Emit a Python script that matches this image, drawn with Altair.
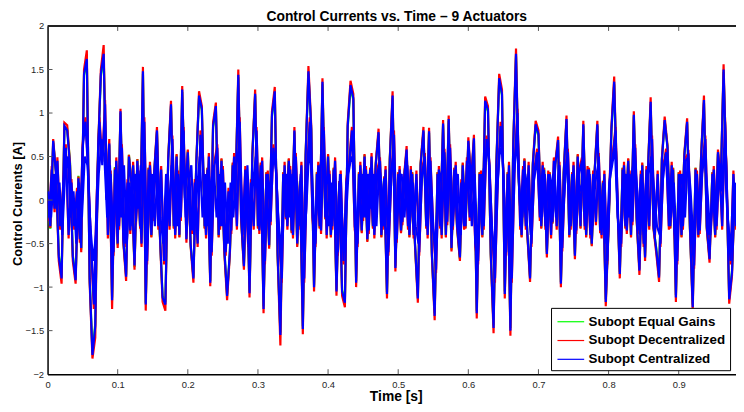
import altair as alt
import pandas as pd

TITLE = "Control Currents vs. Time – 9 Actuators"
X_TITLE = "Time [s]"
Y_TITLE = "Control Currents [A]"
SERIES = ["Subopt Equal Gains", "Subopt Decentralized", "Subopt Centralized"]
COLORS = ["#00ff00", "#ff0000", "#0000ff"]
X_TICKS = [0, 0.1, 0.2, 0.3, 0.4, 0.5, 0.6, 0.7, 0.8, 0.9]
Y_TICKS = [-2, -1.5, -1, -0.5, 0, 0.5, 1, 1.5, 2]
DT = 0.004  # sample spacing of the traced values [s]

# traced envelope trace of each controller
BLUE = [
    0.0, -0.3, 0.68, 0.3, -0.65, -0.9, 0.85, 0.8, 0.4, -0.65,
    -0.92, 0.25, -0.55, 1.45, 1.62, -0.9, -1.78, -1.45, 0.55, 1.45,
    1.68, 0.0, 0.65, -1.15, 0.35, -0.5, 1.02, -0.45, -0.88, 0.5,
    0.15, -0.75, 0.45, -0.3, 1.48, -1.2, 0.35, -0.4, 0.3, 0.8,
    -0.35, -1.12, -1.2, 0.45, 1.1, -0.3, 0.5, -0.4, 1.27, 0.0,
    0.55, -0.5, -0.9, 0.4, 1.2, 1.05, -0.3, 0.35, -0.95, 0.85,
    1.08, -0.4, 0.45, -0.55, -1.1, -0.58, 0.4, 0.1, 1.44, -0.2,
    -0.76, 0.3, -1.07, 0.5, 1.22, -0.3, 0.4, -1.25, 0.3, -0.52,
    0.98, 1.25, -0.6, -1.55, 0.3, -0.2, 0.45, -0.35, 0.8, -0.5,
    0.2, -1.48, 0.5, 1.48, 0.82, -1.0, 0.3, -0.3, 1.36, -0.2,
    0.5, -0.4, 0.35, -1.05, 0.2, -1.05, -1.18, 0.85, 1.32, 1.17,
    -0.95, 0.3, -0.35, 0.5, -0.45, 0.35, -0.3, 0.4, 0.78, -0.4,
    0.25, -1.08, 0.45, 1.2, -0.78, 0.3, -0.35, 0.2, 0.58, -0.4,
    0.3, -0.5, -1.13, 0.4, 0.8, -0.3, 0.79, -0.6, -1.33, 0.3,
    -0.3, 0.88, -0.4, 0.93, -0.55, 0.35, -0.3, -0.66, 0.4, -0.3,
    0.68, 0.2, 0.71, -1.3, 0.3, -0.4, 1.14, 1.04, -0.6, -1.47,
    0.4, 1.4, 1.22, -1.08, 0.3, -1.5, 0.6, 1.68, 0.2, -0.4,
    0.45, -0.35, -0.9, 0.4, 0.87, 0.76, -0.3, 0.35, -0.62, 0.3,
    -0.25, 0.4, 0.69, -0.96, 0.3, 0.93, -0.4, 0.3, -0.64, 0.5,
    -0.3, 0.87, -0.4, 0.35, -0.5, 0.3, 0.87, -0.35, 0.2, -1.17,
    -0.3, 0.8, 1.36, 0.1, -0.85, 0.35, -0.3, 0.45, -0.4, 0.98,
    -0.2, -0.81, 0.4, -0.66, 0.3, 1.13, -0.3, -0.57, -0.89, 0.45,
    0.92, 0.6, -0.3, 0.35, -1.12, 0.3, -0.4, 0.5, 0.9, -0.3,
    -1.23, 0.35, -0.4, 0.5, 1.15, -0.3, -0.68, 0.3, -0.4, 0.55,
    0.2, 1.5, 0.3, -1.14, -0.83, 0.1,
]

RED = [
    0.0, -0.32, 0.7, 0.32, -0.7, -0.96, 0.89, 0.86, 0.42, -0.7,
    -0.96, 0.27, -0.6, 1.5, 1.72, -0.95, -1.82, -1.58, 0.58, 1.5,
    1.78, 0.02, 0.7, -1.25, 0.37, -0.55, 1.05, -0.48, -0.93, 0.52,
    0.17, -0.8, 0.47, -0.33, 1.53, -1.27, 0.37, -0.43, 0.32, 0.84,
    -0.38, -1.17, -1.27, 0.48, 1.14, -0.33, 0.53, -0.43, 1.31, 0.02,
    0.58, -0.53, -0.95, 0.42, 1.25, 1.08, -0.33, 0.37, -0.99, 0.89,
    1.12, -0.43, 0.48, -0.6, -1.15, -0.62, 0.43, 0.12, 1.5, -0.22,
    -0.8, 0.32, -1.12, 0.53, 1.27, -0.33, 0.43, -1.3, 0.32, -0.56,
    1.02, 1.3, -0.64, -1.67, 0.32, -0.22, 0.48, -0.38, 0.84, -0.54,
    0.22, -1.54, 0.53, 1.54, 0.86, -1.05, 0.32, -0.33, 1.4, -0.22,
    0.53, -0.43, 0.37, -1.1, 0.22, -1.1, -1.23, 0.89, 1.37, 1.22,
    -1.0, 0.32, -0.38, 0.53, -0.48, 0.37, -0.33, 0.43, 0.82, -0.43,
    0.27, -1.13, 0.48, 1.25, -0.82, 0.32, -0.38, 0.22, 0.62, -0.43,
    0.32, -0.53, -1.18, 0.43, 0.84, -0.33, 0.83, -0.64, -1.38, 0.32,
    -0.33, 0.92, -0.43, 0.97, -0.59, 0.37, -0.33, -0.7, 0.43, -0.33,
    0.72, 0.22, 0.75, -1.36, 0.32, -0.43, 1.19, 1.08, -0.64, -1.53,
    0.43, 1.45, 1.27, -1.13, 0.32, -1.56, 0.63, 1.74, 0.22, -0.43,
    0.48, -0.38, -0.94, 0.43, 0.91, 0.8, -0.33, 0.37, -0.66, 0.32,
    -0.27, 0.43, 0.73, -1.0, 0.32, 0.97, -0.43, 0.32, -0.68, 0.53,
    -0.33, 0.91, -0.43, 0.37, -0.53, 0.32, 0.91, -0.38, 0.22, -1.22,
    -0.33, 0.84, 1.42, 0.12, -0.9, 0.37, -0.33, 0.48, -0.43, 1.02,
    -0.22, -0.86, 0.43, -0.7, 0.32, 1.18, -0.33, -0.61, -0.94, 0.48,
    0.96, 0.63, -0.33, 0.37, -1.17, 0.32, -0.43, 0.53, 0.94, -0.33,
    -1.28, 0.37, -0.43, 0.53, 1.2, -0.33, -0.72, 0.32, -0.43, 0.58,
    0.22, 1.56, 0.32, -1.19, -0.87, 0.12,
]

GREEN = [
    0.0, -0.33, 0.66, 0.33, -0.62, -0.88, 0.83, 0.82, 0.44, -0.63,
    -0.9, 0.28, -0.57, 1.43, 1.6, -0.88, -1.75, -1.42, 0.57, 1.42,
    1.65, 0.03, 0.63, -1.12, 0.38, -0.52, 1.0, -0.47, -0.86, 0.52,
    0.18, -0.77, 0.47, -0.32, 1.45, -1.18, 0.37, -0.42, 0.32, 0.78,
    -0.37, -1.1, -1.17, 0.47, 1.08, -0.32, 0.52, -0.42, 1.24, 0.02,
    0.57, -0.52, -0.88, 0.42, 1.17, 1.03, -0.32, 0.37, -0.93, 0.83,
    1.06, -0.42, 0.47, -0.57, -1.08, -0.6, 0.42, 0.12, 1.41, -0.22,
    -0.74, 0.32, -1.05, 0.52, 1.2, -0.32, 0.42, -1.22, 0.32, -0.54,
    0.96, 1.22, -0.62, -1.52, 0.32, -0.22, 0.47, -0.37, 0.78, -0.52,
    0.22, -1.45, 0.52, 1.45, 0.8, -0.98, 0.32, -0.32, 1.33, -0.22,
    0.52, -0.42, 0.37, -1.03, 0.22, -1.03, -1.15, 0.83, 1.29, 1.15,
    -0.93, 0.32, -0.37, 0.52, -0.47, 0.37, -0.32, 0.42, 0.76, -0.42,
    0.27, -1.06, 0.47, 1.17, -0.76, 0.32, -0.37, 0.22, 0.56, -0.42,
    0.32, -0.52, -1.1, 0.42, 0.78, -0.32, 0.77, -0.62, -1.3, 0.32,
    -0.32, 0.86, -0.42, 0.91, -0.57, 0.37, -0.32, -0.68, 0.42, -0.32,
    0.66, 0.22, 0.69, -1.27, 0.32, -0.42, 1.11, 1.02, -0.62, -1.44,
    0.42, 1.37, 1.2, -1.05, 0.32, -1.47, 0.62, 1.65, 0.22, -0.42,
    0.47, -0.37, -0.88, 0.42, 0.85, 0.74, -0.32, 0.37, -0.6, 0.32,
    -0.27, 0.42, 0.67, -0.94, 0.32, 0.91, -0.42, 0.32, -0.62, 0.52,
    -0.32, 0.85, -0.42, 0.37, -0.52, 0.32, 0.85, -0.37, 0.22, -1.14,
    -0.32, 0.78, 1.33, 0.12, -0.83, 0.37, -0.32, 0.47, -0.42, 0.96,
    -0.22, -0.79, 0.42, -0.64, 0.32, 1.1, -0.32, -0.55, -0.87, 0.47,
    0.9, 0.62, -0.32, 0.37, -1.09, 0.32, -0.42, 0.52, 0.88, -0.32,
    -1.2, 0.37, -0.42, 0.52, 1.12, -0.32, -0.66, 0.32, -0.42, 0.53,
    0.22, 1.47, 0.32, -1.11, -0.81, 0.12,
]

# further actuator traces, interleaved in time (band interior)
BLUE_2 = [
    -0.2, 0.35, -0.1, 0.45, -0.3, 0.1, 0.6, -0.4, 0.2, -0.3,
    0.1, -0.45, 0.6, 0.9, 0.3, -0.5, -1.2, 0.0, 0.9, 0.4,
    1.1, -0.4, 0.3, -0.6, 0.45, -0.3, 0.6, -0.5, 0.2, -0.35,
    0.4, -0.25, 0.3, -0.5, 0.9, -0.7, 0.4, -0.2, 0.5, -0.3,
    0.35, -0.7, 0.2, -0.3, 0.7, -0.4, 0.3, -0.2, 0.8, -0.45,
    0.3, -0.35, 0.2, -0.5, 0.75, 0.3, -0.4, 0.5, -0.6, 0.4,
    0.6, -0.3, 0.35, -0.6, 0.1, -0.35, 0.5, -0.3, 0.9, -0.4,
    0.35, -0.5, 0.2, -0.3, 0.8, -0.35, 0.45, -0.7, 0.3, -0.25,
    0.6, 0.3, -0.4, -0.9, 0.4, -0.3, 0.35, -0.4, 0.5, -0.3,
    0.4, -0.9, 0.3, 0.9, -0.2, -0.5, 0.4, -0.35, 0.8, -0.4,
    0.3, -0.3, 0.45, -0.6, 0.3, -0.7, 0.2, 0.4, 0.8, -0.3,
    -0.5, 0.4, -0.2, 0.35, -0.35, 0.5, -0.4, 0.3, 0.45, -0.3,
    0.35, -0.6, 0.2, 0.75, -0.45, 0.35, -0.25, 0.4, -0.3, 0.35,
    -0.4, 0.3, -0.6, 0.3, 0.5, -0.4, 0.45, -0.3, -0.8, 0.35,
    -0.4, 0.55, -0.25, 0.6, -0.3, 0.4, -0.45, 0.2, -0.3, 0.45,
    -0.2, 0.4, -0.5, -0.7, 0.3, -0.3, 0.7, 0.4, -0.35, -0.9,
    0.2, 0.85, 0.3, -0.6, 0.4, -0.9, 0.35, 1.0, -0.3, 0.35,
    -0.3, 0.4, -0.5, 0.3, 0.55, -0.2, 0.4, -0.3, 0.3, -0.4,
    0.45, -0.3, 0.4, -0.55, 0.3, 0.55, -0.3, 0.4, -0.35, 0.3,
    0.45, -0.3, 0.35, -0.4, 0.3, -0.25, 0.5, -0.4, 0.3, -0.7,
    0.3, 0.5, 0.8, -0.3, -0.5, 0.4, -0.35, 0.3, -0.25, 0.6,
    -0.35, 0.3, -0.5, 0.35, -0.3, 0.7, -0.4, 0.3, -0.5, 0.35,
    0.55, -0.3, 0.4, -0.35, -0.7, 0.3, -0.3, 0.45, 0.5, -0.4,
    -0.75, 0.3, -0.35, 0.4, 0.7, -0.4, -0.3, 0.35, -0.3, 0.4,
    -0.3, 0.9, -0.2, -0.7, 0.3, -0.3,
]

RED_2 = [
    -0.24, 0.39, -0.14, 0.49, -0.34, 0.14, 0.64, -0.44, 0.24, -0.34,
    0.14, -0.49, 0.64, 0.95, 0.34, -0.54, -1.25, 0.03, 0.95, 0.44,
    1.15, -0.44, 0.34, -0.64, 0.49, -0.34, 0.64, -0.54, 0.24, -0.39,
    0.44, -0.29, 0.34, -0.54, 0.95, -0.74, 0.44, -0.24, 0.54, -0.34,
    0.39, -0.74, 0.24, -0.34, 0.74, -0.44, 0.34, -0.24, 0.84, -0.49,
    0.34, -0.39, 0.24, -0.54, 0.8, 0.34, -0.44, 0.54, -0.64, 0.44,
    0.64, -0.34, 0.39, -0.64, 0.14, -0.39, 0.54, -0.34, 0.95, -0.44,
    0.39, -0.54, 0.24, -0.34, 0.84, -0.39, 0.49, -0.74, 0.34, -0.29,
    0.64, 0.34, -0.44, -0.95, 0.44, -0.34, 0.39, -0.44, 0.54, -0.34,
    0.44, -0.95, 0.34, 0.95, -0.24, -0.54, 0.44, -0.39, 0.84, -0.44,
    0.34, -0.34, 0.49, -0.64, 0.34, -0.74, 0.24, 0.44, 0.84, -0.34,
    -0.54, 0.44, -0.24, 0.39, -0.39, 0.54, -0.44, 0.34, 0.49, -0.34,
    0.39, -0.64, 0.24, 0.8, -0.49, 0.39, -0.29, 0.44, -0.34, 0.39,
    -0.44, 0.34, -0.64, 0.34, 0.54, -0.44, 0.49, -0.34, -0.84, 0.39,
    -0.44, 0.59, -0.29, 0.64, -0.34, 0.44, -0.49, 0.24, -0.34, 0.49,
    -0.24, 0.44, -0.54, -0.74, 0.34, -0.34, 0.74, 0.44, -0.39, -0.95,
    0.24, 0.9, 0.34, -0.64, 0.44, -0.95, 0.39, 1.05, -0.34, 0.39,
    -0.34, 0.44, -0.54, 0.34, 0.59, -0.24, 0.44, -0.34, 0.34, -0.44,
    0.49, -0.34, 0.44, -0.59, 0.34, 0.59, -0.34, 0.44, -0.39, 0.34,
    0.49, -0.34, 0.39, -0.44, 0.34, -0.29, 0.54, -0.44, 0.34, -0.74,
    0.34, 0.54, 0.84, -0.34, -0.54, 0.44, -0.39, 0.34, -0.29, 0.64,
    -0.39, 0.34, -0.54, 0.39, -0.34, 0.74, -0.44, 0.34, -0.54, 0.39,
    0.59, -0.34, 0.44, -0.39, -0.74, 0.34, -0.34, 0.49, 0.54, -0.44,
    -0.79, 0.34, -0.39, 0.44, 0.74, -0.44, -0.34, 0.39, -0.34, 0.44,
    -0.34, 0.95, -0.24, -0.74, 0.34, -0.34,
]

BLUE_3 = [
    0.1, -0.2, 0.3, -0.1, 0.2, -0.4, 0.3, 0.5, -0.2, 0.1,
    -0.5, 0.2, -0.2, 0.5, 0.4, -0.3, -0.7, -0.4, 0.3, 0.7,
    0.5, -0.2, 0.4, -0.4, 0.1, 0.3, -0.2, 0.4, -0.5, 0.2,
    -0.3, 0.3, -0.1, 0.4, 0.2, -0.4, 0.1, 0.3, -0.3, 0.4,
    -0.2, -0.5, 0.3, -0.1, 0.4, 0.1, -0.3, 0.2, 0.5, -0.2,
    0.2, 0.4, -0.4, 0.1, 0.5, -0.2, 0.3, -0.3, 0.2, 0.4,
    -0.2, 0.3, -0.3, 0.2, -0.5, 0.2, -0.2, 0.4, 0.6, 0.0,
    -0.3, 0.4, -0.4, 0.2, 0.5, 0.1, -0.3, -0.5, 0.3, 0.1,
    0.4, 0.5, -0.2, -0.6, 0.1, 0.3, -0.2, 0.3, 0.2, -0.3,
    0.3, -0.6, -0.1, 0.6, 0.3, -0.4, 0.1, 0.4, 0.5, -0.1,
    -0.3, 0.2, -0.2, -0.4, 0.3, -0.5, -0.3, 0.3, 0.5, 0.4,
    -0.4, 0.1, 0.3, -0.2, 0.3, -0.1, 0.3, -0.3, 0.4, 0.1,
    -0.3, -0.4, 0.3, 0.5, -0.3, 0.2, 0.3, -0.2, 0.4, -0.2,
    0.2, -0.3, -0.5, 0.2, 0.4, 0.1, 0.3, -0.3, -0.5, 0.1,
    0.3, 0.4, -0.2, 0.4, -0.3, 0.1, 0.3, -0.4, 0.2, 0.1,
    0.4, -0.3, 0.3, -0.5, -0.1, 0.3, 0.5, 0.6, -0.3, -0.6,
    0.1, 0.6, 0.5, -0.4, 0.2, -0.6, 0.3, 0.7, 0.1, -0.2,
    0.3, 0.1, -0.4, 0.2, 0.4, 0.3, -0.2, 0.3, -0.3, 0.1,
    0.3, -0.2, 0.4, -0.4, 0.1, 0.5, -0.2, 0.3, -0.3, 0.2,
    0.1, 0.4, -0.2, 0.3, -0.3, 0.2, 0.4, -0.2, 0.1, -0.5,
    0.2, 0.4, 0.6, -0.2, -0.4, 0.1, 0.3, -0.2, 0.3, 0.5,
    0.1, -0.4, 0.2, -0.3, 0.3, 0.5, 0.1, -0.3, -0.4, 0.2,
    0.5, 0.3, -0.2, 0.2, -0.5, 0.1, 0.3, -0.2, 0.5, 0.1,
    -0.5, 0.2, -0.2, 0.3, 0.5, 0.1, -0.4, 0.2, -0.2, 0.3,
    0.1, 0.6, -0.1, -0.5, -0.3, 0.2,
]

# ---- build table: (controller, values, time shift), in drawing order ----
traces = [
    (SERIES[0], GREEN, 0.0),
    (SERIES[1], RED, 0.0),
    (SERIES[1], RED_2, DT / 2),
    (SERIES[2], BLUE_3, DT / 4),
    (SERIES[2], BLUE_2, DT / 2),
    (SERIES[2], BLUE, 0.0),
]
rows = []
for order, (name, vals, shift) in enumerate(traces):
    for i, v in enumerate(vals):
        rows.append({"t": round(i * DT + shift, 4), "I": v, "series": name, "order": order})
df = pd.DataFrame(rows)
xt = pd.DataFrame({"t": X_TICKS[1:]})
yt = pd.DataFrame({"I": Y_TICKS[1:-1]})
title_df = pd.DataFrame({"label": [TITLE]})

W, H = 696, 352
XMAX = 0.9817
FONT = "Liberation Sans"

x_scale = alt.Scale(domain=[0, XMAX], nice=False, zero=False)
y_scale = alt.Scale(domain=[-2, 2], nice=False, zero=False)
color_scale = alt.Scale(domain=SERIES, range=COLORS)

x_enc = alt.X("t:Q", scale=x_scale, axis=alt.Axis(
    values=X_TICKS, labelExpr="format(datum.value, '~g')", tickSize=0,
    labelPadding=5, labelFlush=False, labelFontSize=9.5, labelColor="#262626",
    domainColor="black", domainWidth=1.5, grid=False,
    title=X_TITLE, titleFontSize=14, titleFontWeight="bold", titleColor="black",
    titleX=352, titleY=23, titleBaseline="middle", titleAlign="center"))
y_enc = alt.Y("I:Q", scale=y_scale, axis=alt.Axis(
    values=Y_TICKS, labelExpr="format(datum.value, '~g')", tickSize=0,
    labelPadding=4, labelFlush=False, labelFontSize=9.5, labelColor="#262626",
    domainColor="black", domainWidth=1.5, grid=False,
    title=Y_TITLE, titleFontSize=13, titleFontWeight="bold", titleColor="black",
    titleX=-30.5, titleY=179.5, titleBaseline="middle", titleAlign="center", titleAngle=270))
color_enc = alt.Color("series:N", scale=color_scale, legend=alt.Legend(
    title=None, orient="none", legendX=509, legendY=285, direction="vertical",
    symbolType="M-1.5,0L1.5,0", symbolStrokeWidth=1.2, symbolSize=324,
    symbolOffset=6, labelFontSize=13.5, labelFontWeight="bold", labelFont=FONT,
    labelColor="black", labelOffset=8, strokeColor="black", fillColor="white",
    padding=4, rowPadding=2))

layers = []
for order in range(len(traces)):
    layers.append(
        alt.Chart(df).transform_filter(alt.datum.order == order)
        .mark_line(strokeWidth=2.2, clip=True)
        .encode(x=x_enc, y=y_enc, color=color_enc)
    )

bottom_ticks = alt.Chart(xt).mark_rule(color="#555", strokeWidth=1).encode(
    x=alt.X("t:Q", scale=x_scale), y=alt.value(H), y2=alt.value(H - 5))
top_ticks = alt.Chart(xt).mark_rule(color="#555", strokeWidth=1).encode(
    x=alt.X("t:Q", scale=x_scale), y=alt.value(0), y2=alt.value(5))
left_ticks = alt.Chart(yt).mark_rule(color="#555", strokeWidth=1).encode(
    y=alt.Y("I:Q", scale=y_scale), x=alt.value(0), x2=alt.value(5))
top_border = alt.Chart(title_df).mark_rule(color="#222", strokeWidth=2).encode(
    x=alt.value(0), x2=alt.value(W), y=alt.value(0))
title_mark = alt.Chart(title_df).mark_text(
    fontSize=14, fontWeight="bold", font=FONT, color="black",
    align="center", baseline="middle").encode(
    x=alt.value(353), y=alt.value(-9), text="label:N")

chart = alt.layer(*layers, bottom_ticks, top_ticks, left_ticks, top_border, title_mark).properties(
    width=W, height=H,
    autosize=alt.AutoSizeParams(type="none"),
    padding={"left": 40, "top": 16, "right": 0, "bottom": 28},
).configure(font=FONT).configure_view(stroke=None)

chart.save("out.html", embed_options={"renderer": "svg", "actions": False})
